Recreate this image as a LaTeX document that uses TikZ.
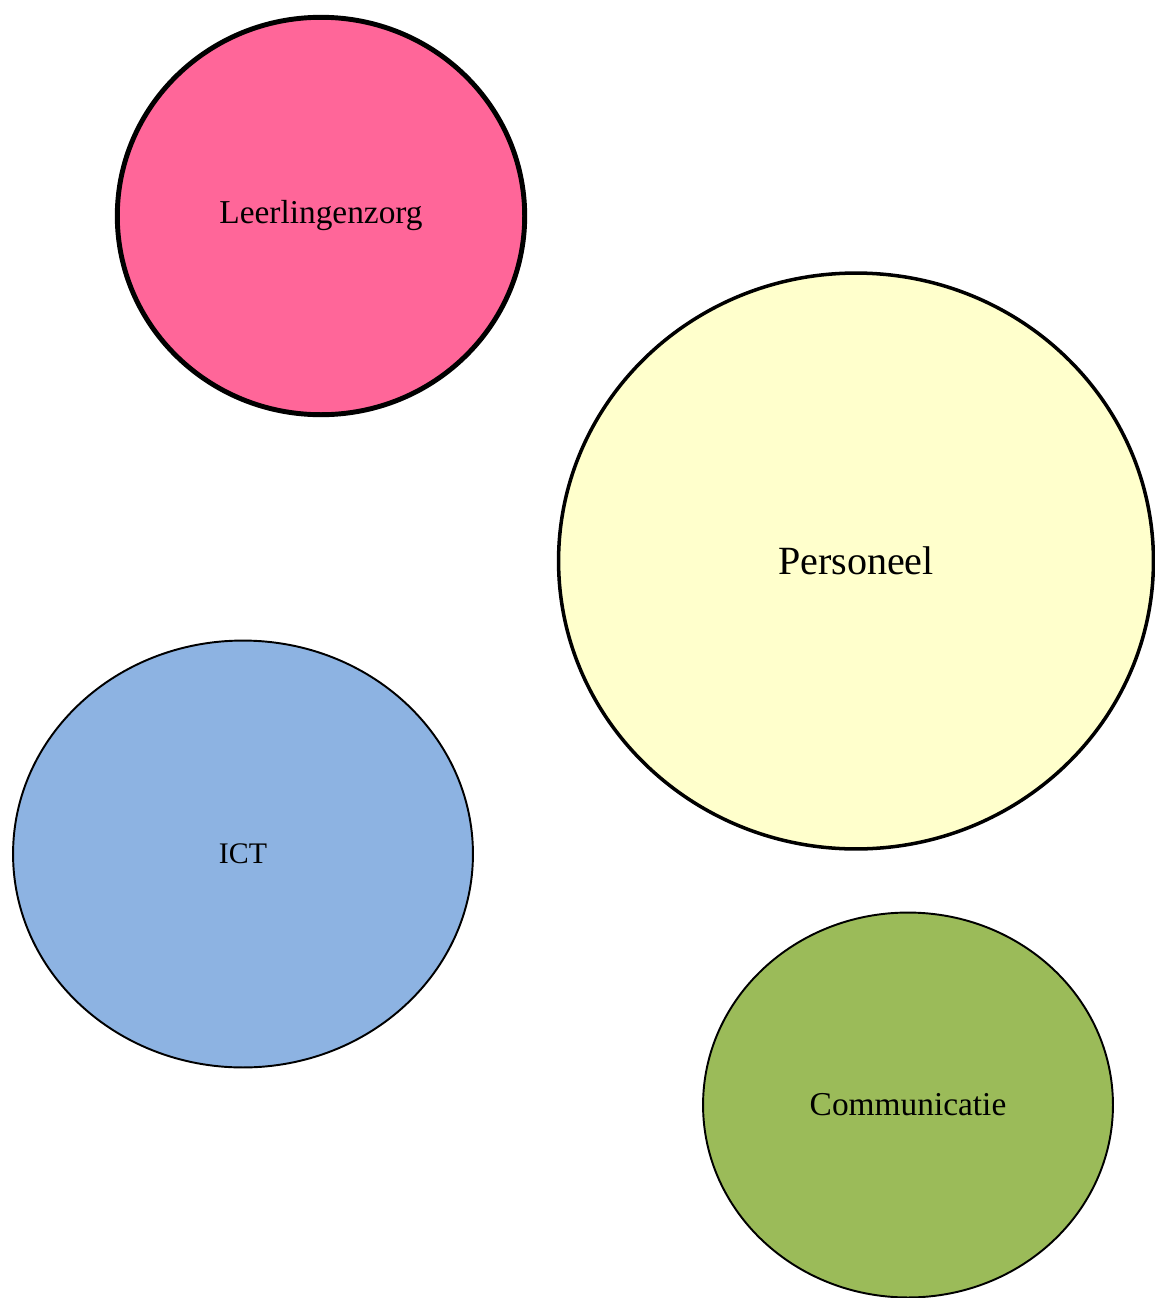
\documentclass[tikz,border=0pt]{standalone}
\usepackage{fontspec}
\setmainfont{Liberation Serif}
\usepackage{xcolor}
\usetikzlibrary{shapes.geometric, positioning}
\definecolor{zorgpink}{HTML}{FF6699}
\definecolor{perslemon}{HTML}{FFFFCC}
\definecolor{ictblue}{HTML}{8DB3E2}
\definecolor{comgreen}{HTML}{9BBB59}
\tikzset{
  %topic bubble style
  bubble/.style={
    draw
    , ellipse
    , inner sep=0pt
    , anchor=center
    , text centered
    , font=\fontsize{19}{22}\selectfont
    %, drop shadow
  },
}

\begin{document}
\begin{tikzpicture}[x=0.02cm, y=-0.02cm]
  \tikzstyle{thick-bubble}=[bubble, line width=2.8pt]
  \tikzstyle{thin-bubble}=[bubble, line width=1.1pt]
  % canvas
  \useasboundingbox (0,0) rectangle (1155,1298);

  \node [thick-bubble, fill=zorgpink, minimum width=8.15cm, minimum height=7.95cm]
    (zorg) at (321,216) {Leerlingenzorg};
  \node [bubble, line width=2pt, fill=perslemon, minimum width=11.9cm, minimum height=11.52cm,
    font=\fontsize{22.8}{26}\selectfont]
    (pers) at (856,561) {Personeel};
  \node [thin-bubble, fill=ictblue, minimum width=9.2cm, minimum height=8.54cm,
    font=\fontsize{17}{20}\selectfont]
    (ict) at (243,854) {ICT};
  \node [thin-bubble, fill=comgreen, minimum width=8.2cm, minimum height=7.7cm]
    (com) at (908,1105) {Communicatie};

\end{tikzpicture}
\end{document}
